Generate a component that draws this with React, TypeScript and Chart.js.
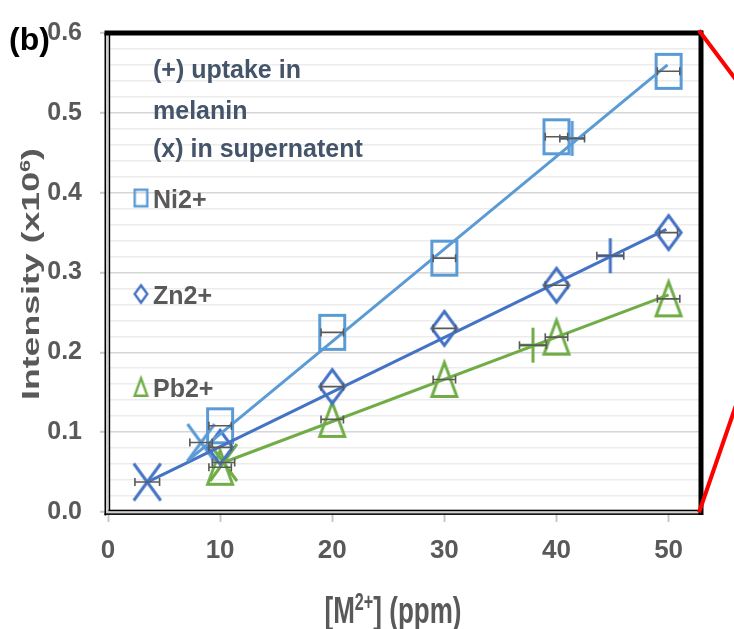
import React, { useEffect, useRef } from 'react';
import { Chart, registerables } from 'chart.js';

Chart.register(...registerables);

// ---------------- data ----------------
const concentrations = [10, 20, 30, 40, 50];
const niIntensity = [0.108, 0.225, 0.318, 0.47, 0.552];
const znIntensity = [0.081, 0.157, 0.23, 0.284, 0.35];
const pbIntensity = [0.056, 0.116, 0.166, 0.219, 0.267];
const niErr = [1.0, 1.0, 1.0, 1.0, 1.0];
const znErr = [1.0, 1.0, 1.0, 1.0, 0.8];
const pbErr = [1.0, 1.0, 1.0, 1.0, 1.0];

// (+) uptake in melanin : Ni, Zn, Pb
const uptakeX = [41.4, 44.8, 37.9];
const uptakeY = [0.468, 0.321, 0.209];
const uptakeErr = [1.1, 1.2, 1.2];

// (x) in supernatant : Ni, Zn, Pb
const superX = [8.3, 3.5, 10.3];
const superY = [0.087, 0.0375, 0.062];
const superErr = [1.0, 1.1, 1.0];

// linear trend lines (start, end)
const niTrendX = [7.1, 49.9];
const niTrendY = [0.064, 0.56];
const znTrendX = [3.5, 49.8];
const znTrendY = [0.0375, 0.354];
const pbTrendX = [10.3, 50.0];
const pbTrendY = [0.062, 0.272];

const xTickValues = [0, 10, 20, 30, 40, 50];
const yMajorStep = 0.1;
const yMinorStep = 0.02;

const seriesNames = ['Ni2+', 'Zn2+', 'Pb2+'];
const noteLines = ['(+) uptake in', 'melanin', '(x) in supernatent'];

// ---------------- styles ----------------
const NI = '#5b9bd5';
const ZN = '#4472c4';
const PB = '#70ad47';
const TXT = '#595959';
const NOTE = '#44546a';
const FAMILY = "'Liberation Sans', Arial, Helvetica, sans-serif";

type Kind = 'rect' | 'diamond' | 'triangle' | 'plus' | 'cross';

function makeMarker(kind: Kind, color: string, w: number, h: number, lw: number): HTMLCanvasElement {
  const pad = Math.ceil(lw) + 1;
  const c = document.createElement('canvas');
  c.width = w + 2 * pad;
  c.height = h + 2 * pad;
  const g = c.getContext('2d')!;
  g.strokeStyle = color;
  g.lineWidth = lw;
  g.lineJoin = 'miter';
  const x0 = pad, y0 = pad;
  const cx = x0 + w / 2, cy = y0 + h / 2;
  const e = lw / 2;
  g.beginPath();
  if (kind === 'rect') {
    g.rect(x0 + e, y0 + e, w - lw, h - lw);
  } else if (kind === 'diamond') {
    g.moveTo(cx, y0 + e);
    g.lineTo(x0 + w - e, cy);
    g.lineTo(cx, y0 + h - e);
    g.lineTo(x0 + e, cy);
    g.closePath();
  } else if (kind === 'triangle') {
    g.moveTo(cx, y0 + e);
    g.lineTo(x0 + w - e, y0 + h - e);
    g.lineTo(x0 + e, y0 + h - e);
    g.closePath();
  } else if (kind === 'plus') {
    g.moveTo(cx, y0);
    g.lineTo(cx, y0 + h);
    g.moveTo(x0, cy);
    g.lineTo(x0 + w, cy);
  } else {
    g.moveTo(x0, y0);
    g.lineTo(x0 + w, y0 + h);
    g.moveTo(x0 + w, y0);
    g.lineTo(x0, y0 + h);
  }
  g.stroke();
  return c;
}

type Seg = { t: string; sup?: boolean };

function drawRich(
  ctx: CanvasRenderingContext2D,
  segs: Seg[],
  x: number,
  y: number,
  size: number,
  color: string,
  targetWidth: number | null,
  rotation: number
) {
  ctx.save();
  ctx.translate(x, y);
  ctx.rotate(rotation);
  const fontFor = (s: Seg) => `bold ${s.sup ? Math.round(size * 0.62) : size}px ${FAMILY}`;
  let total = 0;
  const widths = segs.map((s) => {
    ctx.font = fontFor(s);
    const w = ctx.measureText(s.t).width;
    total += w;
    return w;
  });
  const sx = targetWidth ? targetWidth / total : 1;
  ctx.scale(sx, 1);
  ctx.fillStyle = color;
  ctx.textBaseline = 'alphabetic';
  ctx.textAlign = 'left';
  let cx = -total / 2;
  segs.forEach((s, i) => {
    ctx.font = fontFor(s);
    ctx.fillText(s.t, cx, s.sup ? -size * 0.36 : 0);
    cx += widths[i];
  });
  ctx.restore();
}

const isMajor = (v: number) => Math.abs(v / yMajorStep - Math.round(v / yMajorStep)) < 1e-6;

export default function App() {
  const ref = useRef<HTMLCanvasElement | null>(null);

  useEffect(() => {
    const canvas = ref.current;
    if (!canvas) return;

    const mk = {
      niRect: makeMarker('rect', NI, 28, 37, 3),
      znDia: makeMarker('diamond', ZN, 28, 37, 3),
      pbTri: makeMarker('triangle', PB, 28, 37, 3),
      niPlus: makeMarker('plus', NI, 26, 35, 3),
      znPlus: makeMarker('plus', ZN, 26, 35, 3),
      pbPlus: makeMarker('plus', PB, 26, 35, 3),
      niCross: makeMarker('cross', NI, 27, 37, 3),
      znCross: makeMarker('cross', ZN, 27, 37, 3),
      pbCross: makeMarker('cross', PB, 27, 37, 3),
      lgRect: makeMarker('rect', NI, 15, 19, 2.4),
      lgDia: makeMarker('diamond', ZN, 15, 20, 2.4),
      lgTri: makeMarker('triangle', PB, 15, 20, 2.4),
    };

    const pts = (xs: number[], ys: number[]) => xs.map((x, i) => ({ x, y: ys[i] }));

    const trend = (label: string, xs: number[], ys: number[], color: string) => ({
      label,
      data: pts(xs, ys),
      showLine: true,
      borderColor: color,
      borderWidth: 3,
      pointRadius: 0,
      fill: false,
    });

    const markers = (label: string, xs: number[], ys: number[], style: any, err: number[]) => ({
      label,
      data: pts(xs, ys),
      showLine: false,
      pointStyle: style,
      pointRadius: 14,
      borderWidth: 0,
      xErr: err,
    });

    const errorBars = {
      id: 'errorBars',
      afterDatasetsDraw(chart: any) {
        const ctx = chart.ctx as CanvasRenderingContext2D;
        const xs = chart.scales.x;
        const ysc = chart.scales.y;
        ctx.save();
        ctx.strokeStyle = '#595959';
        ctx.lineWidth = 1.6;
        chart.data.datasets.forEach((ds: any) => {
          if (!ds.xErr) return;
          ds.data.forEach((p: any, i: number) => {
            const e = ds.xErr[i];
            const x1 = xs.getPixelForValue(p.x - e);
            const x2 = xs.getPixelForValue(p.x + e);
            const py = ysc.getPixelForValue(p.y);
            ctx.beginPath();
            ctx.moveTo(x1, py);
            ctx.lineTo(x2, py);
            ctx.moveTo(x1, py - 4);
            ctx.lineTo(x1, py + 4);
            ctx.moveTo(x2, py - 4);
            ctx.lineTo(x2, py + 4);
            ctx.stroke();
          });
        });
        ctx.restore();
      },
    };

    const frame = {
      id: 'frame',
      beforeDatasetsDraw(chart: any) {
        const ctx = chart.ctx as CanvasRenderingContext2D;
        const { left, top, right, bottom } = chart.chartArea;
        ctx.save();
        ctx.fillStyle = '#000';
        // left double line
        ctx.fillRect(left - 3.5, top, 1.7, bottom - top + 3.5);
        ctx.fillRect(left + 0.5, top, 1.7, bottom - top - 1);
        ctx.fillStyle = '#d0d0d0';
        ctx.fillRect(left - 1.8, top, 2.3, bottom - top + 1.5);
        // bottom double line
        ctx.fillStyle = '#000';
        ctx.fillRect(left - 3.5, bottom + 1.2, right - left + 4, 1.7);
        ctx.fillRect(left + 0.5, bottom - 2.3, right - left - 1, 1.7);
        ctx.fillStyle = '#d0d0d0';
        ctx.fillRect(left - 1.8, bottom - 0.6, right - left + 2, 1.8);
        // top and right thick lines
        ctx.fillStyle = '#000';
        ctx.fillRect(left - 3.5, top - 2.5, right - left + 6, 5);
        ctx.fillRect(right - 1.5, top - 2.5, 5, bottom - top + 5.5);
        ctx.restore();
      },
    };

    const overlay = {
      id: 'overlay',
      afterDraw(chart: any) {
        const ctx = chart.ctx as CanvasRenderingContext2D;
        const { left, top, right, bottom } = chart.chartArea;
        const W = chart.width;
        ctx.save();
        // red call-out lines
        ctx.strokeStyle = '#ff0000';
        ctx.lineWidth = 4;
        ctx.beginPath();
        ctx.moveTo(right - 1, top - 2.5);
        ctx.lineTo(W + 2, top - 2.5 + (W + 3 - right) * 1.33);
        ctx.moveTo(right - 1, bottom + 0.5);
        ctx.lineTo(W + 2, bottom + 0.5 - (W + 3 - right) * 2.9);
        ctx.stroke();

        // panel label
        ctx.fillStyle = '#000';
        ctx.font = `bold 32px ${FAMILY}`;
        ctx.textAlign = 'left';
        ctx.textBaseline = 'alphabetic';
        ctx.fillText('(b)', 9, 50);

        // note text
        ctx.fillStyle = NOTE;
        ctx.font = `bold 25px ${FAMILY}`;
        const noteBase = [78, 119, 157];
        noteLines.forEach((t, i) => ctx.fillText(t, 153, noteBase[i]));

        // legend
        const lg = [mk.lgRect, mk.lgDia, mk.lgTri];
        const lgY = [198, 294, 387];
        const lgBase = [208, 304, 397];
        ctx.fillStyle = TXT;
        ctx.font = `bold 25px ${FAMILY}`;
        seriesNames.forEach((n, i) => {
          const m = lg[i];
          ctx.drawImage(m, 141 - m.width / 2, lgY[i] - m.height / 2);
          ctx.fillText(n, 153, lgBase[i]);
        });

        // axis titles
        drawRich(ctx, [{ t: '[M' }, { t: '2+', sup: true }, { t: '] (ppm)' }], 393, 623, 37, TXT, 137, 0);
        drawRich(ctx, [{ t: 'Intensity (x10' }, { t: '6', sup: true }, { t: ')' }], 38.5, 274, 23, TXT, 252, -Math.PI / 2);
        ctx.restore();
      },
    };

    const chart = new Chart(canvas, {
      type: 'scatter',
      data: {
        datasets: [
          trend('Ni2+ fit', niTrendX, niTrendY, NI),
          trend('Zn2+ fit', znTrendX, znTrendY, ZN),
          trend('Pb2+ fit', pbTrendX, pbTrendY, PB),
          markers('Ni2+', concentrations, niIntensity, mk.niRect, niErr),
          markers('Zn2+', concentrations, znIntensity, mk.znDia, znErr),
          markers('Pb2+', concentrations, pbIntensity, mk.pbTri, pbErr),
          markers('(+) uptake in melanin', uptakeX, uptakeY, [mk.niPlus, mk.znPlus, mk.pbPlus], uptakeErr),
          markers('(x) in supernatent', superX, superY, [mk.niCross, mk.znCross, mk.pbCross], superErr),
        ] as any,
      },
      options: {
        animation: false,
        responsive: false,
        maintainAspectRatio: false,
        layout: { padding: { left: 0, top: 26, right: 34, bottom: 0 } },
        plugins: {
          legend: { display: false },
          tooltip: { enabled: false },
        },
        scales: {
          x: {
            type: 'linear',
            min: 0,
            max: 52.8,
            afterBuildTicks: (s: any) => {
              s.ticks = xTickValues.map((v) => ({ value: v }));
            },
            afterFit: (s: any) => {
              s.height = 117;
            },
            ticks: {
              color: TXT,
              font: { family: FAMILY, size: 26, weight: 'bold' },
              padding: 13,
              callback: (v: any) => String(v),
            },
            grid: {
              drawOnChartArea: false,
              tickLength: 10,
              tickColor: '#c8c8c8',
              tickWidth: 2,
            },
            border: { display: false },
          },
          y: {
            type: 'linear',
            min: 0,
            max: 0.6,
            afterFit: (s: any) => {
              s.width = 108;
            },
            ticks: {
              stepSize: yMinorStep,
              color: TXT,
              font: { family: FAMILY, size: 25, weight: 'bold' },
              padding: 18,
              autoSkip: false,
              callback: (v: any) => (isMajor(Number(v)) ? Number(v).toFixed(1) : ''),
            },
            grid: {
              color: (c: any) => (isMajor(c.tick.value) ? '#d6d6d6' : '#ececec'),
              lineWidth: 1.6,
              tickLength: 8,
              tickColor: (c: any) => (isMajor(c.tick.value) ? '#c8c8c8' : 'rgba(0,0,0,0)'),
              tickWidth: 2,
            },
            border: { display: false },
          },
        },
      } as any,
      plugins: [frame, errorBars, overlay],
    });

    return () => chart.destroy();
  }, []);

  return (
    <div style={{ position: 'fixed', left: 0, top: 0, width: 734, height: 629, background: '#ffffff' }}>
      <canvas ref={ref} width={734} height={629} style={{ display: 'block', width: 734, height: 629 }} />
    </div>
  );
}
